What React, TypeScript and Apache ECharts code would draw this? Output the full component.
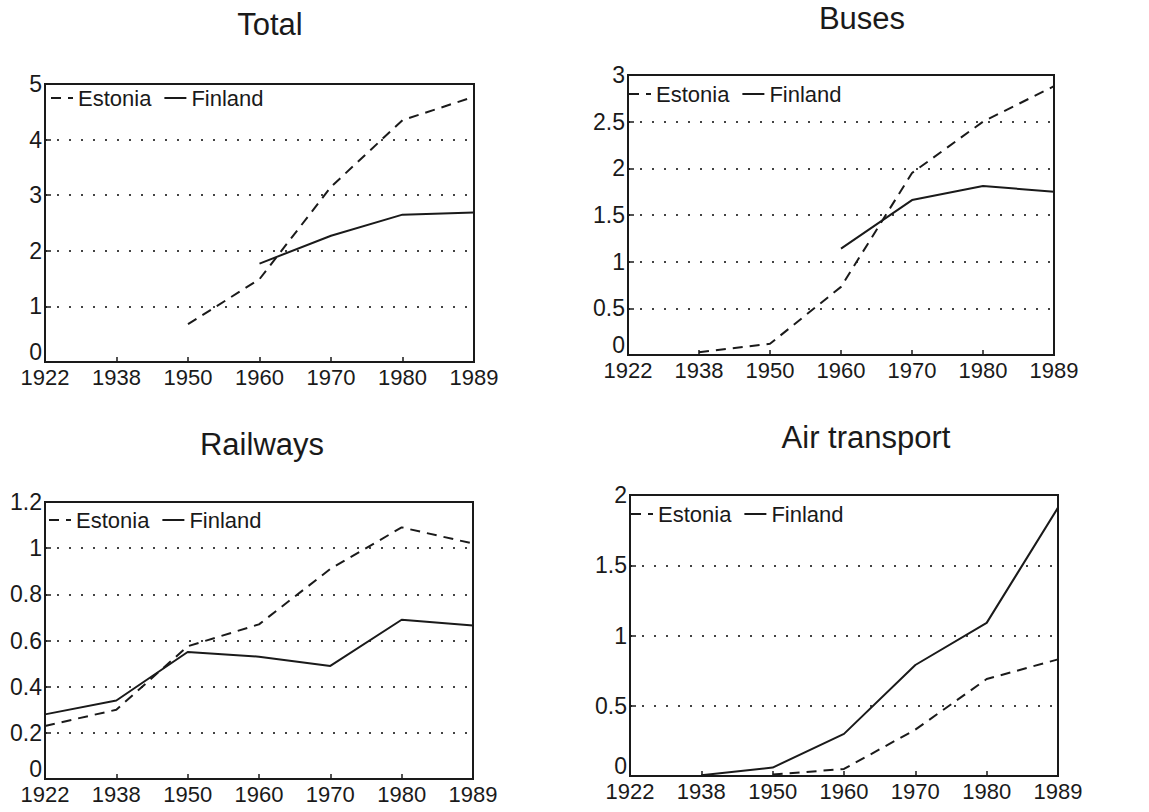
import React, { useEffect, useRef } from "react";
import * as echarts from "echarts";

const years = ["1922", "1938", "1950", "1960", "1970", "1980", "1989"];

// Total
const totalEstonia = [null, null, 0.68, 1.49, 3.15, 4.35, 4.77];
const totalFinland = [null, null, null, 1.77, 2.27, 2.65, 2.69];
// Buses
const busesEstonia = [null, 0.03, 0.12, 0.73, 1.95, 2.5, 2.88];
const busesFinland = [null, null, null, 1.14, 1.66, 1.81, 1.75];
// Railways
const railEstonia = [0.23, 0.3, 0.575, 0.67, 0.91, 1.09, 1.02];
const railFinland = [0.28, 0.34, 0.55, 0.53, 0.49, 0.69, 0.665];
// Air transport
const airEstonia = [null, null, 0.01, 0.05, 0.33, 0.69, 0.83];
const airFinland = [null, 0.005, 0.06, 0.3, 0.79, 1.09, 1.91];

const titles = ["Total", "Buses", "Railways", "Air transport"];
const yMax = [5, 3, 1.2, 2];
const yInterval = [1, 0.5, 0.2, 0.5];

const panels = [
  { grid: { left: 45, top: 84, width: 429, height: 278 }, title: [270, 24], legendLeft: 50, legendTop: 87 },
  { grid: { left: 628, top: 75, width: 426, height: 280 }, title: [862, 18], legendLeft: 628, legendTop: 83 },
  { grid: { left: 45, top: 502, width: 428, height: 277 }, title: [262, 444], legendLeft: 48, legendTop: 509 },
  { grid: { left: 630, top: 495, width: 428, height: 281 }, title: [866, 437], legendLeft: 630, legendTop: 503 },
];

const seriesData = [
  [totalEstonia, totalFinland],
  [busesEstonia, busesFinland],
  [railEstonia, railFinland],
  [airEstonia, airFinland],
];

const REG = "'Liberation Sans', Arial, sans-serif";
const INK = "#1a1a1a";

export default function App() {
  const ref = useRef<HTMLDivElement>(null);
  useEffect(() => {
    if (!ref.current) return;
    const chart = echarts.init(ref.current, undefined, { renderer: "svg" });
    const grid: any[] = [];
    const xAxis: any[] = [];
    const yAxis: any[] = [];
    const legend: any[] = [];
    const series: any[] = [];
    const graphic: any[] = [];
    panels.forEach((p, i) => {
      grid.push({ ...p.grid, show: true, borderColor: INK, borderWidth: 2, backgroundColor: "transparent" });
      xAxis.push({
        type: "category",
        gridIndex: i,
        data: years,
        boundaryGap: false,
        axisLine: { lineStyle: { color: INK, width: 2 } },
        axisTick: { inside: true, length: 5, interval: 0, lineStyle: { color: INK, width: 1.5 } },
        axisLabel: { color: INK, fontFamily: REG, fontSize: 22, margin: 4, interval: 0, showMinLabel: true, showMaxLabel: true },
        splitLine: { show: false },
      });
      yAxis.push({
        type: "value",
        gridIndex: i,
        min: 0,
        max: yMax[i],
        interval: yInterval[i],
        axisLine: { show: true, lineStyle: { color: INK, width: 2 } },
        axisTick: { show: true, inside: true, length: 6, lineStyle: { color: INK, width: 1.5 } },
        axisLabel: {
          color: INK,
          fontFamily: REG,
          fontSize: 23,
          margin: 3,
          formatter: (v: number) => (v === 0 ? "{z|0}" : String(Math.round(v * 10) / 10)),
          rich: { z: { fontFamily: REG, fontSize: 23, color: INK, padding: [0, 0, 20, 0] } },
        },
        splitLine: {
          show: true,
          showMinLine: false,
          showMaxLine: false,
          lineStyle: { color: "#444", width: 2, type: [2, 10] },
        },
      });
      legend.push({
        left: p.legendLeft,
        top: p.legendTop,
        padding: 0,
        itemWidth: 22,
        itemHeight: 12,
        itemGap: 12,
        itemStyle: { opacity: 0, borderWidth: 0 },
        data: [
          { name: "Estonia" + "\u200b".repeat(i) },
          { name: "Finland" + "\u200b".repeat(i) },
        ],
        textStyle: { color: INK, fontFamily: REG, fontSize: 22 },
      });
      const [est, fin] = seriesData[i];
      series.push({
        name: "Estonia" + "\u200b".repeat(i),
        type: "line",
        xAxisIndex: i,
        yAxisIndex: i,
        data: est,
        symbol: "none",
        showSymbol: false,
        connectNulls: false,
        lineStyle: { color: INK, width: 2, type: [10, 7] },
        itemStyle: { color: INK },
      });
      series.push({
        name: "Finland" + "\u200b".repeat(i),
        type: "line",
        xAxisIndex: i,
        yAxisIndex: i,
        data: fin,
        symbol: "none",
        showSymbol: false,
        connectNulls: false,
        lineStyle: { color: INK, width: 2, type: "solid" },
        itemStyle: { color: INK },
      });
      graphic.push({
        type: "text",
        x: p.title[0],
        y: p.title[1],
        style: {
          text: titles[i],
          fill: INK,
          font: `31px ${REG}`,
          textAlign: "center",
          textVerticalAlign: "middle",
        },
      });
    });
    chart.setOption({
      animation: false,
      backgroundColor: "#fff",
      grid,
      xAxis,
      yAxis,
      legend,
      series,
      graphic,
    });
    return () => chart.dispose();
  }, []);
  return (
    <div
      ref={ref}
      style={{ position: "fixed", left: 0, top: 0, width: 1149, height: 812, background: "#fff" }}
    />
  );
}
